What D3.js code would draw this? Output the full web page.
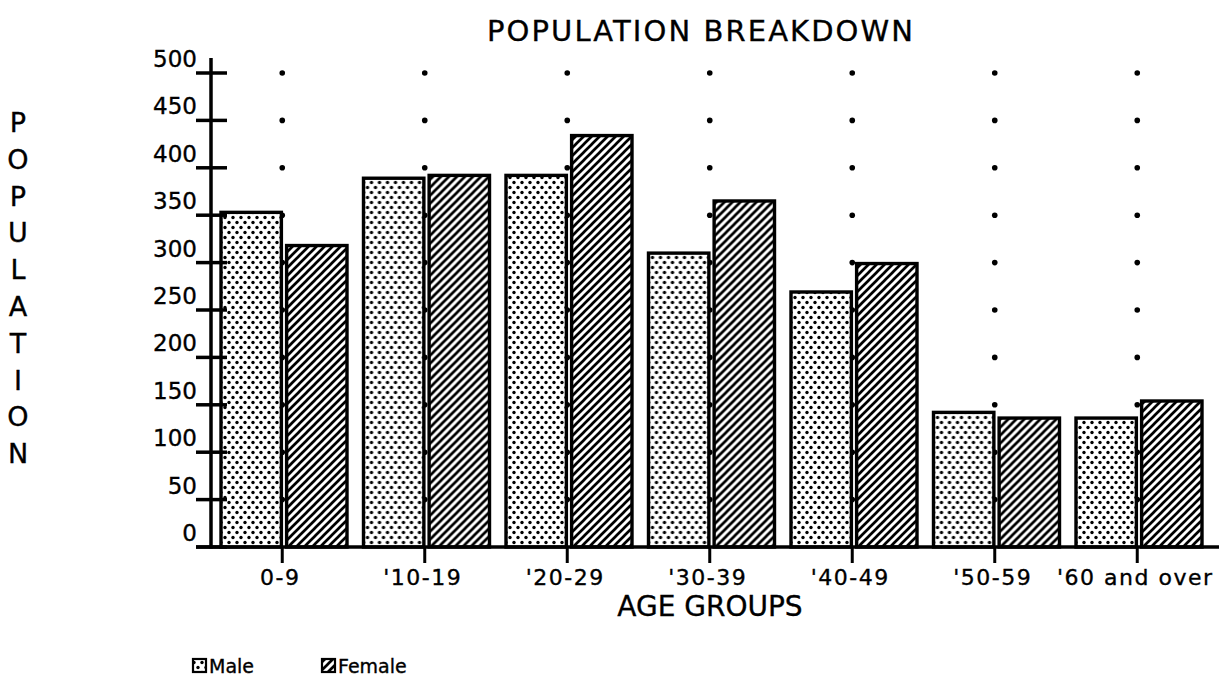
<!DOCTYPE html>
<html>
<head>
<meta charset="utf-8">
<script src="https://cdn.jsdelivr.net/npm/d3@7"></script>
<style>
  html, body { margin: 0; padding: 0; background: #fff; }
  svg { display: block; }
  text { font-family: "DejaVu Sans", sans-serif; fill: #000; stroke: #000; stroke-width: 0.35; }
</style>
</head>
<body>
<div id="chart"></div>
<script>
const categories = ["0-9", "'10-19", "'20-29", "'30-39", "'40-49", "'50-59", "'60 and over"];
const seriesNames = ["Male", "Female"];
const maleValues = [353, 389, 392, 310, 269, 142, 136];
const femaleValues = [318, 392, 434, 365, 299, 136, 154];
const yTicks = [0, 50, 100, 150, 200, 250, 300, 350, 400, 450, 500];
const titleText = "POPULATION BREAKDOWN";
const xTitle = "AGE GROUPS";
const yTitle = "POPULATION";

const W = 1219, H = 684;
const svg = d3.select("#chart").append("svg").attr("width", W).attr("height", H);
svg.append("rect").attr("width", W).attr("height", H).attr("fill", "#fff");

const defs = svg.append("defs");
// stipple pattern
const dots = defs.append("pattern").attr("id", "dots")
  .attr("patternUnits", "userSpaceOnUse").attr("width", 8).attr("height", 10);
dots.append("rect").attr("width", 8).attr("height", 10).attr("fill", "#fff");
dots.append("circle").attr("cx", 2).attr("cy", 2.5).attr("r", 1.7).attr("fill", "#000");
dots.append("circle").attr("cx", 6).attr("cy", 7.5).attr("r", 1.7).attr("fill", "#000");
// hatch pattern
const hatch = defs.append("pattern").attr("id", "hatch")
  .attr("patternUnits", "userSpaceOnUse").attr("width", 8).attr("height", 8);
hatch.append("rect").attr("width", 8).attr("height", 8).attr("fill", "#fff");
hatch.append("path").attr("d", "M-1,1 L1,-1 M0,8 L8,0 M7,9 L9,7")
  .attr("stroke", "#000").attr("stroke-width", 2.7).attr("stroke-linecap", "square");

const fills = { Male: "url(#dots)", Female: "url(#hatch)" };

const x0 = d3.scaleBand().domain(categories).range([211, 1208.5]).padding(0);
const x1 = d3.scaleBand().domain(seriesNames).range([10, 136]).paddingInner(0.08).paddingOuter(0);
const y = d3.scaleLinear().domain([0, 500]).range([547, 73]);

const data = categories.map((c, i) => ({ cat: c, Male: maleValues[i], Female: femaleValues[i] }));

// dot grid
const grid = svg.append("g");
categories.forEach(c => {
  yTicks.filter(t => t > 0).forEach(t => {
    grid.append("circle").attr("cx", x0(c) + x0.bandwidth() / 2).attr("cy", y(t)).attr("r", 2.8).attr("fill", "#000");
  });
});

// bars
const groups = svg.append("g").selectAll("g").data(data).join("g")
  .attr("transform", d => `translate(${x0(d.cat)},0)`);
groups.selectAll("rect").data(d => seriesNames.map(s => ({ s, v: d[s] }))).join("rect")
  .attr("x", d => x1(d.s))
  .attr("width", x1.bandwidth())
  .attr("y", d => y(d.v))
  .attr("height", d => y(0) - y(d.v))
  .attr("fill", d => fills[d.s])
  .attr("stroke", "#000")
  .attr("stroke-width", 3.4);

// y axis
const yAxis = d3.axisLeft(y).tickValues(yTicks).tickSize(0).tickFormat("");
const yg = svg.append("g").attr("transform", "translate(211,0)").call(yAxis);
yg.select(".domain").remove();
svg.append("line").attr("x1", 211).attr("x2", 211).attr("y1", 58).attr("y2", 548.5)
  .attr("stroke", "#000").attr("stroke-width", 3.5);
yTicks.forEach(t => {
  svg.append("line").attr("x1", 196).attr("x2", 227).attr("y1", y(t)).attr("y2", y(t))
    .attr("stroke", "#000").attr("stroke-width", 3.5);
  svg.append("text").attr("x", 197).attr("y", y(t) - 6).attr("text-anchor", "end")
    .attr("font-size", 23).text(t);
});

// x axis baseline and ticks
svg.append("line").attr("x1", 196).attr("x2", 1219).attr("y1", y(0)).attr("y2", y(0))
  .attr("stroke", "#000").attr("stroke-width", 3.5);
const xAxis = d3.axisBottom(x0).tickSize(0).tickFormat("");
const xg = svg.append("g").attr("transform", `translate(0,${y(0)})`).call(xAxis);
xg.select(".domain").remove();
categories.forEach(c => {
  const cx = x0(c) + x0.bandwidth() / 2;
  svg.append("line").attr("x1", cx).attr("x2", cx).attr("y1", y(0)).attr("y2", 563)
    .attr("stroke", "#000").attr("stroke-width", 3);
  svg.append("text").attr("x", cx - 2).attr("y", 585).attr("text-anchor", "middle")
    .attr("font-size", 22).attr("letter-spacing", 1.5).text(c);
});

// titles
svg.append("text").attr("x", 487).attr("y", 41).attr("font-size", 29)
  .attr("textLength", 426).attr("lengthAdjust", "spacing").text(titleText);
svg.append("text").attr("x", 710).attr("y", 616).attr("text-anchor", "middle")
  .attr("font-size", 28).text(xTitle);
yTitle.split("").forEach((ch, i) => {
  svg.append("text").attr("x", 18).attr("y", 132 + i * 36.8).attr("text-anchor", "middle")
    .attr("font-size", 27).text(ch);
});

// legend
const legend = [{ s: "Male", x: 193 }, { s: "Female", x: 322 }];
legend.forEach(l => {
  svg.append("rect").attr("x", l.x).attr("y", 659).attr("width", 13).attr("height", 13)
    .attr("fill", fills[l.s]).attr("stroke", "#000").attr("stroke-width", 2.2);
  svg.append("text").attr("x", l.x + 16).attr("y", 673).attr("font-size", 19).text(l.s);
});
</script>
</body>
</html>
